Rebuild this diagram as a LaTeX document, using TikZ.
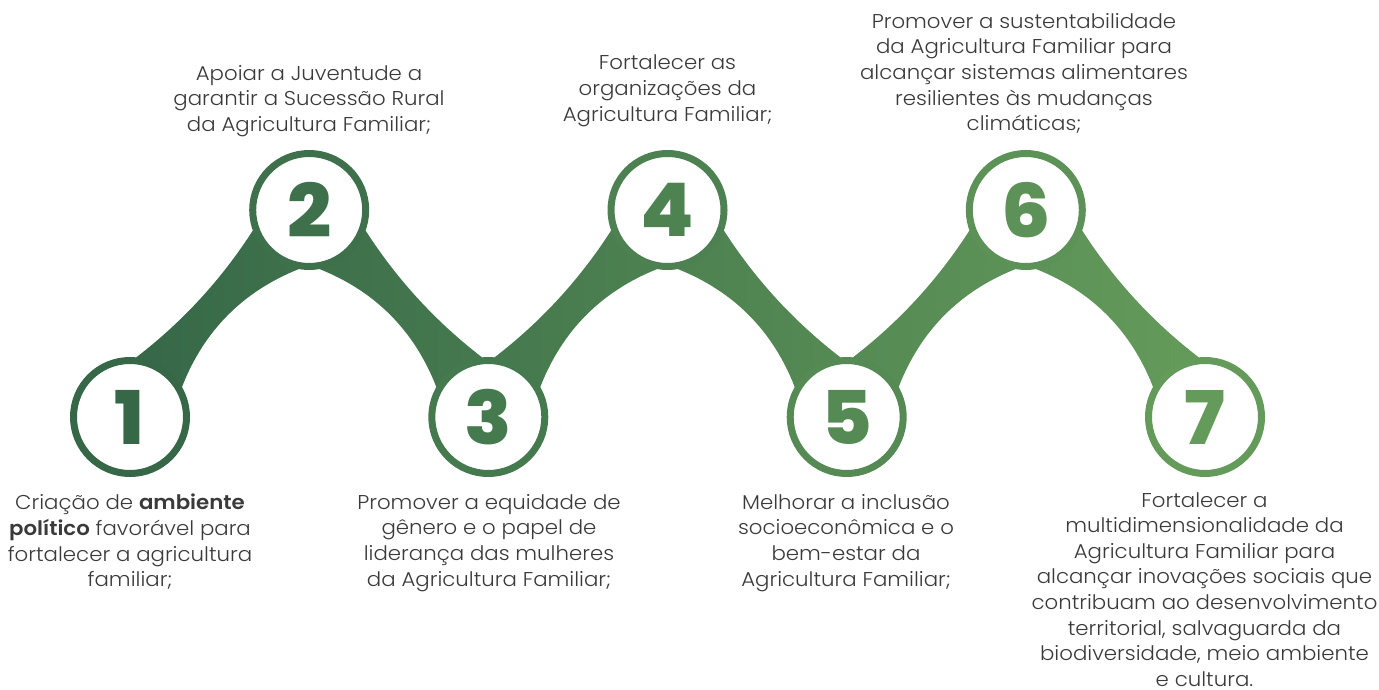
\documentclass[tikz,border=0pt]{standalone}
\usepackage{fontspec}
\setmainfont{Poppins}[UprightFont=*-Light,BoldFont=*-SemiBold,FakeStretch=1.065]
\newfontfamily\numfont{Poppins}[UprightFont=*-ExtraBold,FakeStretch=1.05]
\usetikzlibrary{calc}
\definecolor{rA}{RGB}{54,104,72}
\definecolor{rB}{RGB}{100,155,90}
\definecolor{txt}{RGB}{58,58,58}
\colorlet{k1}{rB!0!rA}
\colorlet{k2}{rB!17!rA}
\colorlet{k3}{rB!33!rA}
\colorlet{k4}{rB!50!rA}
\colorlet{k5}{rB!67!rA}
\colorlet{k6}{rB!83!rA}
\colorlet{k7}{rB!100!rA}
\tikzset{
  ring/.style={circle,draw=#1,line width=7pt,fill=white,minimum size=113pt,inner sep=0pt,
    text=#1,font=\numfont\fontsize{74}{74}\selectfont},
  lbl/.style={align=center,text=txt,inner sep=0pt,font=\fontsize{20}{25.6}\selectfont},
}
% #1 valley, #2 peak, #3 valley-inner angle, #4 peak-outer angle, #5 peak-inner angle,
% #6 valley-outer angle, #7 rotation, #8 anti rotation, #9 shading options
\newcommand\bandshape[9]{%
  \coordinate (va) at ($(#1)+(#3:60)$);
  \coordinate (pb) at ($(#2)+(#4:60)$);
  \coordinate (pc) at ($(#2)+(#5:60)$);
  \coordinate (vd) at ($(#1)+(#6:60)$);
  \shade[#9] (#1) -- (va)
    .. controls ($(va)!.333!(pb)!10pt!#7:(pb)$) and ($(pb)!.333!(va)!10pt!#8:(va)$) .. (pb)
    -- (#2) -- (pc)
    .. controls ($(pc)!.333!(vd)!24pt!#7:(vd)$) and ($(vd)!.333!(pc)!24pt!#8:(pc)$) .. (vd)
    -- cycle;
}
\begin{document}
\begin{tikzpicture}[x=1pt,y=-1pt]
\useasboundingbox (0,0) rectangle (1379,690);
\coordinate (p1) at (130,417);
\coordinate (p2) at (309.2,210);
\coordinate (p3) at (488.3,417);
\coordinate (p4) at (667.5,210);
\coordinate (p5) at (846.7,417);
\coordinate (p6) at (1025.8,210);
\coordinate (p7) at (1205,417);
\bandshape{p1}{p2}{-84}{160}{100}{-30}{-90}{90}{left color=k1,right color=k2}
\bandshape{p3}{p2}{-96}{20}{80}{-150}{90}{-90}{left color=k2,right color=k3}
\bandshape{p3}{p4}{-84}{160}{100}{-30}{-90}{90}{left color=k3,right color=k4}
\bandshape{p5}{p4}{-96}{20}{80}{-150}{90}{-90}{left color=k4,right color=k5}
\bandshape{p5}{p6}{-84}{160}{100}{-30}{-90}{90}{left color=k5,right color=k6}
\bandshape{p7}{p6}{-96}{20}{80}{-150}{90}{-90}{left color=k6,right color=k7}
\node[ring=k1] (c1) at (p1) {1};
\node[ring=k2] (c2) at (p2) {2};
\node[ring=k3] (c3) at (p3) {3};
\node[ring=k4] (c4) at (p4) {4};
\node[ring=k5] (c5) at (p5) {5};
\node[ring=k6] (c6) at (p6) {6};
\node[ring=k7] (c7) at (p7) {7};
\node[lbl,anchor=north] (t1) at (130,494) {Criação de \textbf{ambiente}\\\textbf{político} favorável para\\fortalecer a agricultura\\familiar;};
\node[lbl,anchor=north] (t2) at (309,65) {Apoiar a Juventude a\\garantir a Sucessão Rural\\da Agricultura Familiar;};
\node[lbl,anchor=north] (t3) at (489,494) {Promover a equidade de\\gênero e o papel de\\liderança das mulheres\\da Agricultura Familiar;};
\node[lbl,anchor=north] (t4) at (667.5,55) {Fortalecer as\\organizações da\\Agricultura Familiar;};
\node[lbl,anchor=north] (t5) at (846,494) {Melhorar a inclusão\\socioeconômica e o\\bem-estar da\\Agricultura Familiar;};
\node[lbl,anchor=north] (t6) at (1024,13) {Promover a sustentabilidade\\da Agricultura Familiar para\\alcançar sistemas alimentares\\resilientes às mudanças\\climáticas;};
\node[lbl,anchor=north] (t7) at (1204.5,492) {Fortalecer a\\multidimensionalidade da\\Agricultura Familiar para\\alcançar inovações sociais que\\contribuam ao desenvolvimento\\territorial, salvaguarda da\\biodiversidade, meio ambiente\\e cultura.};
\end{tikzpicture}
\end{document}
